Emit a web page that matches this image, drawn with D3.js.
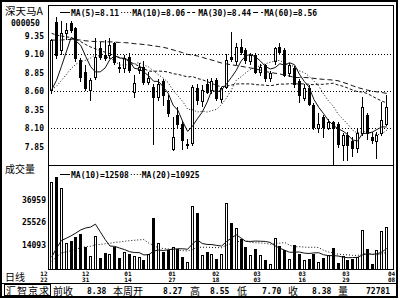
<!DOCTYPE html>
<html>
<head>
<meta charset="utf-8">
<script src="https://cdn.jsdelivr.net/npm/d3@7"></script>
<style>
body { margin: 0; background: #fff; }
svg { display: block; }
</style>
</head>
<body>
<div class="content"></div>
<script>
// daily bars, oldest first (70 trading days)
const opens = [8.61,9.54,9.16,9.39,9.52,9.45,9.02,8.86,8.61,8.79,9.18,9.09,9.09,9.25,8.92,8.91,9.06,8.59,8.88,8.93,
  8.72,8.66,8.52,8.73,8.48,7.81,8.27,8.16,7.87,7.90,8.64,8.46,8.70,8.61,8.75,8.49,8.66,9.06,9.00,9.20,
  9.16,9.00,9.09,8.86,8.95,8.77,9.00,9.20,9.16,8.84,8.91,8.73,8.50,8.64,8.41,8.10,8.25,8.10,8.18,8.16,
  7.87,8.00,7.92,7.83,8.03,8.27,7.98,7.92,8.03,8.16]
const highs = [9.31,9.60,9.55,9.52,9.55,9.47,9.05,8.95,8.78,9.32,9.27,9.29,9.32,9.27,8.99,9.09,9.12,8.82,8.98,9.00,
  8.86,8.70,8.76,8.76,8.55,8.25,8.38,8.20,7.95,8.68,8.70,8.68,8.76,8.78,8.78,8.66,9.10,9.40,9.25,9.31,
  9.18,9.12,9.12,8.96,8.97,8.87,9.20,9.25,9.18,8.98,8.94,8.76,8.70,8.68,8.44,8.30,8.28,8.22,8.20,8.18,
  8.03,8.05,7.98,8.08,8.52,8.30,8.05,8.05,8.45,8.55]
const lows = [8.58,9.05,9.10,9.31,9.40,9.00,8.73,8.61,8.48,8.76,9.03,9.02,9.05,8.97,8.86,8.86,8.86,8.52,8.85,8.70,
  8.69,7.89,8.48,8.41,8.26,7.80,8.10,7.82,7.83,7.87,8.42,8.40,8.57,8.58,8.48,8.45,8.64,9.00,8.97,9.10,
  8.98,8.97,8.84,8.82,8.73,8.74,8.96,9.10,8.80,8.80,8.66,8.45,8.48,8.41,8.08,8.05,7.98,8.08,7.60,7.84,
  7.67,7.67,7.72,7.77,8.00,7.95,7.90,7.70,8.00,8.14]
const closes = [9.29,9.09,9.38,9.43,9.43,9.05,8.79,8.64,8.75,9.06,9.06,9.05,9.22,8.99,8.91,9.05,8.88,8.71,8.93,8.72,
  8.78,8.52,8.70,8.55,8.30,7.98,8.16,7.94,7.89,8.65,8.48,8.62,8.59,8.73,8.50,8.64,9.02,9.03,9.20,9.13,
  9.02,9.09,8.86,8.93,8.77,8.84,9.18,9.13,8.82,8.95,8.70,8.55,8.64,8.43,8.12,8.16,8.12,8.18,8.10,7.89,
  8.00,7.87,7.83,8.03,8.39,8.03,7.94,8.01,8.21,8.38]
const volumes = [45900,48400,42600,15100,16200,18300,19600,13200,8500,18600,7900,10200,9600,13200,7900,10700,9600,8500,8200,6900,
  9600,27500,15200,10700,11600,13200,12400,8200,5700,33800,30000,9000,10700,9900,7400,9900,35000,25300,22500,17400,
  13200,9000,12400,9000,6500,4900,17900,13800,11900,7400,14000,9600,6900,7000,9500,5700,7900,9000,12500,5200,
  8500,6900,7200,8200,21500,12000,4900,11600,21000,23000]

// moving averages as plotted
const ma5 = [8.618,8.746,8.932,9.128,9.324,9.276,9.216,9.068,8.932,8.858,8.860,8.912,9.028,9.076,9.046,9.044,9.010,8.908,8.896,8.858,
  8.804,8.732,8.730,8.654,8.570,8.410,8.338,8.186,8.054,8.124,8.224,8.316,8.446,8.614,8.584,8.616,8.696,8.784,8.878,9.004,
  9.080,9.094,9.060,9.006,8.934,8.898,8.916,8.970,8.948,8.984,8.956,8.830,8.732,8.654,8.488,8.380,8.294,8.202,8.136,8.090,
  8.058,8.008,7.938,7.924,8.024,8.030,8.044,8.080,8.116,8.114]
const ma10 = [8.619,8.666,8.742,8.823,8.904,8.964,8.998,9.017,9.047,9.091,9.068,9.064,9.048,9.004,8.952,8.952,8.961,8.968,8.986,8.952,
  8.924,8.871,8.819,8.775,8.714,8.607,8.535,8.458,8.354,8.347,8.317,8.327,8.316,8.334,8.354,8.420,8.506,8.615,8.746,8.794,
  8.848,8.895,8.922,8.942,8.969,8.989,9.005,9.015,8.977,8.959,8.927,8.873,8.851,8.801,8.736,8.668,8.562,8.467,8.395,8.289,
  8.219,8.151,8.070,8.030,8.057,8.044,8.026,8.009,8.020,8.069]
const ma30 = [9.380,9.357,9.345,9.334,9.323,9.299,9.267,9.229,9.196,9.172,9.149,9.125,9.107,9.082,9.053,9.030,9.000,8.965,8.938,8.903,
  8.870,8.867,8.870,8.867,8.857,8.835,8.826,8.809,8.790,8.797,8.770,8.754,8.728,8.704,8.673,8.660,8.667,8.680,8.695,8.698,
  8.696,8.698,8.686,8.684,8.679,8.672,8.682,8.696,8.692,8.700,8.697,8.698,8.696,8.692,8.686,8.692,8.691,8.699,8.706,8.681,
  8.665,8.640,8.614,8.591,8.587,8.567,8.531,8.497,8.464,8.439]
const ma60 = [9.290,9.288,9.291,9.295,9.299,9.296,9.289,9.280,9.273,9.270,9.268,9.265,9.266,9.262,9.257,9.255,9.250,9.241,9.237,9.229,
  9.222,9.211,9.202,9.191,9.176,9.156,9.139,9.118,9.096,9.087,9.075,9.056,9.036,9.019,8.998,8.979,8.967,8.955,8.946,8.935,
  8.923,8.912,8.897,8.883,8.866,8.851,8.841,8.831,8.815,8.802,8.784,8.783,8.783,8.780,8.772,8.764,8.758,8.754,8.748,8.739,
  8.717,8.697,8.671,8.648,8.630,8.613,8.599,8.589,8.580,8.568]
const volMa10 = [8190,12630,16490,17600,18820,20250,21810,22730,23180,24640,20840,17020,13720,13530,12700,11940,10940,10470,10440,9270,
  9440,11170,11730,11480,11850,12100,12380,12350,12100,14790,16830,14980,14530,14450,14030,13700,15960,17670,19350,17710,
  16030,16030,16200,16110,16020,15520,13810,12660,11600,10600,10680,10740,10190,9990,10290,10370,9370,8890,8950,8730,
  8180,7910,7940,8060,9260,9890,9590,9850,10700,12480]
const volMa20 = [6095,8315,10245,10800,11410,12125,12905,13365,13590,14320,14515,14825,15105,15565,15760,16095,16375,16600,16810,16955,
  15140,14095,12725,12505,12275,12020,11660,11410,11270,12030,13135,13075,13130,12965,12940,12900,14170,15010,15725,16250,
  16430,15505,15365,15280,15025,14610,14885,15165,15475,14155,13355,13385,13195,13050,13155,12945,11590,10775,10275,9665,
  9430,9325,9065,9025,9775,10130,9480,9370,9825,10605]

const priceTicks = [9.35, 9.10, 8.85, 8.60, 8.35, 8.10, 7.85]
const priceGrid = [9.10, 8.60, 8.10]
const volTicks = [36959, 25526, 14093]
const dateMonths = ['12','12','01','01','02','03','03','03','04']
const dateDays = ['22','31','14','27','18','03','16','29','08']
const dateSlots = [-1.6, 7, 15.7, 24.8, 33.8, 42.3, 51.6, 60.6, 70]
const maLabels = ['MA(5)=8.11', 'MA(10)=8.06', 'MA(30)=8.44', 'MA(60)=8.56']
const volLabels = ['MA(10)=12508', 'MA(20)=10925']
const stockName = '深天马A'
const stockCode = '000050'
const statusTitle = '汇智京求'
const statusNames = ['前收', '本周开', '高', '低', '收', '量']
const statusValues = ['8.38', '8.27', '8.55', '7.70', '8.38', '72781']

//Layout
const width = 400
const height = 300
const plotLeft = 48
const plotRight = 393
const plotTop = 5
const priceBottom = 165
const volBottom = 270
const monoFont = '"DejaVu Sans Mono", monospace'
const cjkFont = '"Noto Sans CJK SC", sans-serif'

let svg = d3.select('div.content')
    .append('svg')
    .attr('width', width)
    .attr('height', height)

svg.append('rect')
    .attr('width', width)
    .attr('height', height)
    .attr('fill', 'white')

let x = d3.scaleLinear().domain([0, closes.length - 1]).range([51.7, 386.7])
let yPrice = d3.scaleLinear().domain([7.85, 9.35]).range([146.5, 35.6])
let yVol = d3.scaleLinear().domain([0, 36959]).range([273.5, 199.5])

let defs = svg.append('defs')
defs.append('clipPath').attr('id', 'price-clip')
    .append('rect')
    .attr('x', plotLeft).attr('y', plotTop)
    .attr('width', plotRight - plotLeft).attr('height', priceBottom - plotTop)
defs.append('clipPath').attr('id', 'vol-clip')
    .append('rect')
    .attr('x', plotLeft).attr('y', priceBottom)
    .attr('width', plotRight - plotLeft).attr('height', volBottom - priceBottom)

const crisp = v => Math.round(v) + 0.5

// dotted grid lines in the price panel
svg.append('g')
    .attr('id', 'grid')
    .selectAll('line')
    .data(priceGrid)
    .join('line')
    .attr('x1', plotLeft)
    .attr('x2', plotRight)
    .attr('y1', d => crisp(yPrice(d)))
    .attr('y2', d => crisp(yPrice(d)))
    .attr('stroke', 'black')
    .attr('stroke-dasharray', '1,2')

// candles
let candles = svg.append('g')
    .attr('id', 'candles')
    .attr('clip-path', 'url(#price-clip)')
    .selectAll('g')
    .data(closes)
    .join('g')

candles.append('line')
    .attr('x1', (d, i) => Math.floor(x(i)) + 0.5)
    .attr('x2', (d, i) => Math.floor(x(i)) + 0.5)
    .attr('y1', (d, i) => Math.round(yPrice(highs[i])))
    .attr('y2', (d, i) => Math.round(yPrice(lows[i])) + 1)
    .attr('stroke', 'black')

candles.append('rect')
    .attr('x', (d, i) => Math.floor(x(i)) - 0.5)
    .attr('width', 2)
    .attr('y', (d, i) => crisp(yPrice(Math.max(opens[i], d))))
    .attr('height', (d, i) => crisp(yPrice(Math.min(opens[i], d))) - crisp(yPrice(Math.max(opens[i], d))))
    .attr('fill', (d, i) => d >= opens[i] ? 'white' : 'black')
    .attr('stroke', 'black')

// moving average lines
const priceLine = d3.line().x((d, i) => x(i)).y(d => yPrice(d))
const maDash = [null, '1,2', '3,2', '5,3']
let maGroup = svg.append('g').attr('id', 'ma').attr('clip-path', 'url(#price-clip)')
;[ma5, ma10, ma30, ma60].forEach((series, k) => {
    maGroup.append('path')
        .attr('d', priceLine(series))
        .attr('fill', 'none')
        .attr('stroke', '#111')
        .attr('stroke-width', 1)
        .attr('stroke-dasharray', maDash[k])
})

// volume bars
svg.append('g')
    .attr('id', 'volume')
    .attr('clip-path', 'url(#vol-clip)')
    .selectAll('rect')
    .data(volumes)
    .join('rect')
    .attr('x', (d, i) => Math.floor(x(i)) - 0.5)
    .attr('width', 2)
    .attr('y', d => crisp(yVol(d)))
    .attr('height', d => volBottom - 0.5 - crisp(yVol(d)))
    .attr('fill', (d, i) => closes[i] >= opens[i] ? 'white' : 'black')
    .attr('stroke', 'black')

const volLine = d3.line().x((d, i) => x(i)).y(d => yVol(d))
let volMaGroup = svg.append('g').attr('id', 'vol-ma').attr('clip-path', 'url(#vol-clip)')
;[volMa10, volMa20].forEach((series, k) => {
    volMaGroup.append('path')
        .attr('d', volLine(series))
        .attr('fill', 'none')
        .attr('stroke', '#111')
        .attr('stroke-dasharray', maDash[k])
})

// frames
svg.append('rect')
    .attr('x', 1).attr('y', 1)
    .attr('width', 396).attr('height', 296)
    .attr('fill', 'none')
    .attr('stroke', 'black')
    .attr('stroke-width', 2)
svg.append('rect')
    .attr('x', plotLeft + 0.5).attr('y', plotTop + 0.5)
    .attr('width', plotRight - plotLeft).attr('height', volBottom - plotTop - 1)
    .attr('fill', 'none')
    .attr('stroke', 'black')
svg.append('line')
    .attr('x1', plotLeft).attr('x2', plotRight + 1)
    .attr('y1', priceBottom + 0.5).attr('y2', priceBottom + 0.5)
    .attr('stroke', 'black')
svg.append('line')
    .attr('x1', 1).attr('x2', 397)
    .attr('y1', 283.5).attr('y2', 283.5)
    .attr('stroke', 'black')

// axes (labels only)
svg.append('g')
    .attr('transform', `translate(${plotLeft},0)`)
    .call(d3.axisLeft(yPrice).tickValues(priceTicks).tickSize(0).tickPadding(4).tickFormat(d3.format('.2f')))
    .call(g => g.select('.domain').remove())
    .attr('font-family', monoFont)
    .attr('font-size', 8)
    .attr('font-weight', 'bold')
svg.append('g')
    .attr('transform', `translate(${plotLeft},0)`)
    .call(d3.axisLeft(yVol).tickValues(volTicks).tickSize(0).tickPadding(2).tickFormat(d => d))
    .call(g => g.select('.domain').remove())
    .attr('font-family', monoFont)
    .attr('font-size', 8)
    .attr('font-weight', 'bold')

// two-row date labels under the volume panel
let dateGroup = svg.append('g')
    .attr('font-family', monoFont)
    .attr('font-size', 6)
    .attr('font-weight', 'bold')
    .attr('text-anchor', 'middle')
dateGroup.selectAll('text.month')
    .data(dateSlots)
    .join('text')
    .attr('class', 'month')
    .attr('x', d => x(d))
    .attr('y', 275.5)
    .text((d, i) => dateMonths[i])
dateGroup.selectAll('text.day')
    .data(dateSlots)
    .join('text')
    .attr('class', 'day')
    .attr('x', d => x(d))
    .attr('y', 282.4)
    .text((d, i) => dateDays[i])

// legends: a short sample of the line style, then the text
function drawLegend(labels, startX, baseY) {
    let cx = startX
    labels.forEach((label, k) => {
        svg.append('line')
            .attr('x1', cx).attr('x2', cx + 10)
            .attr('y1', baseY - 3.5).attr('y2', baseY - 3.5)
            .attr('stroke', 'black')
            .attr('stroke-dasharray', maDash[k])
        let t = svg.append('text')
            .attr('x', cx + 11)
            .attr('y', baseY)
            .attr('font-family', monoFont)
            .attr('font-size', 8)
            .attr('font-weight', 'bold')
            .text(label)
        cx += 11 + t.node().getComputedTextLength() + 2
    })
}
drawLegend(maLabels, 60, 16)
drawLegend(volLabels, 60, 178)

// left side labels
svg.append('text')
    .attr('x', 5).attr('y', 15.3)
    .attr('font-family', cjkFont).attr('font-size', 10.5)
    .text(stockName)
svg.append('text')
    .attr('x', 11).attr('y', 25.8)
    .attr('font-family', monoFont).attr('font-size', 8).attr('font-weight', 'bold')
    .text(stockCode)
svg.append('text')
    .attr('x', 5).attr('y', 173)
    .attr('font-family', cjkFont).attr('font-size', 10)
    .text('成交量')
svg.append('text')
    .attr('x', 5).attr('y', 280.5)
    .attr('font-family', cjkFont).attr('font-size', 10)
    .text('日线')

// status bar
svg.append('rect')
    .attr('x', 4.5).attr('y', 284.5)
    .attr('width', 46).attr('height', 11)
    .attr('fill', 'none')
    .attr('stroke', 'black')
svg.append('text')
    .attr('x', 6).attr('y', 295.3)
    .attr('font-family', cjkFont).attr('font-size', 10)
    .attr('textLength', 43)
    .text(statusTitle)
const nameX = [53, 113, 190, 237, 288, 338]
const valueX = [87, 163, 210, 262, 312, 366]
svg.append('g')
    .selectAll('text')
    .data(statusNames)
    .join('text')
    .attr('x', (d, i) => nameX[i])
    .attr('y', 295.3)
    .attr('font-family', cjkFont)
    .attr('font-size', 10)
    .text(d => d)
svg.append('g')
    .selectAll('text')
    .data(statusValues)
    .join('text')
    .attr('x', (d, i) => valueX[i])
    .attr('y', 293.5)
    .attr('font-family', monoFont)
    .attr('font-size', 8)
    .attr('font-weight', 'bold')
    .text(d => d)
</script>
</body>
</html>
